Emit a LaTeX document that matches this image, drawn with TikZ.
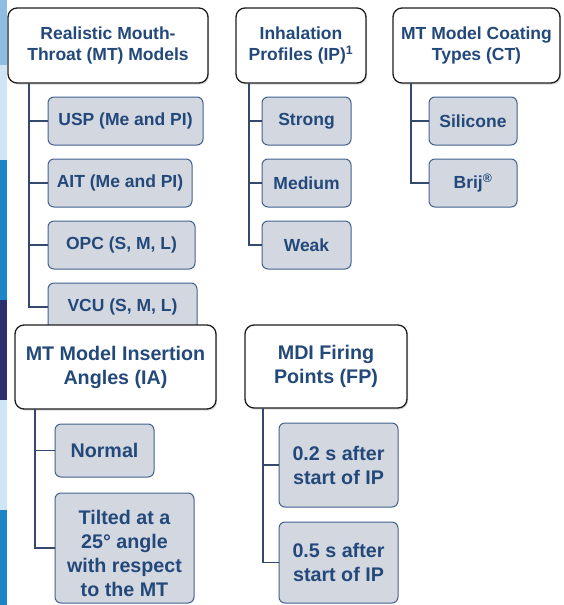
\documentclass[tikz,border=0pt]{standalone}
\usepackage{fontspec}
\setmainfont{Liberation Sans}
\usetikzlibrary{shadows}

\definecolor{txtblue}{HTML}{23487A}
\definecolor{headline}{HTML}{1E1E1E}
\definecolor{itemline}{HTML}{41618F}
\definecolor{itemfill}{HTML}{D3D7E0}
\definecolor{linkcol}{HTML}{34496D}
\definecolor{stripA}{HTML}{8DBDE3}
\definecolor{stripB}{HTML}{CFE4F4}
\definecolor{stripC}{HTML}{1B85C8}
\definecolor{stripD}{HTML}{2C2F6E}

\begin{document}
\begin{tikzpicture}[x=1pt, y=-1pt]
    \tikzset{
        head/.style={draw=headline, line width=1.3pt, fill=white,
            rounded corners=9pt, align=center, inner sep=0pt, text=txtblue,
            font=\bfseries\fontsize{17.5}{21}\selectfont,
            drop shadow={shadow xshift=1.2pt, shadow yshift=-1.5pt, opacity=0.3}},
        item/.style={draw=itemline, line width=1pt, fill=itemfill,
            rounded corners=6pt, align=center, inner sep=0pt, text=txtblue,
            font=\bfseries\fontsize{17.5}{21}\selectfont},
        big/.style={font=\bfseries\fontsize{19.7}{24}\selectfont},
        link/.style={draw=linkcol, line width=1.2pt}
    }

    \useasboundingbox (0, 0) rectangle (563, 605);

    % Slide edge on the left
    \fill[stripA] (0, 0) rectangle (7, 65);
    \fill[stripB] (0, 65) rectangle (7, 160);
    \fill[stripC] (0, 160) rectangle (7, 300);
    \fill[stripD] (0, 300) rectangle (7, 400);
    \fill[stripB] (0, 400) rectangle (7, 510);
    \fill[stripC] (0, 510) rectangle (7, 605);

    % Mouth-throat models
    \node[head, minimum width=200pt, minimum height=75pt] (mt) at (108, 45.5)
        {Realistic Mouth-\\Throat (MT) Models};
    \node[item, minimum width=155pt, minimum height=48pt] (usp) at (125.5, 121) {USP (Me and PI)};
    \node[item, minimum width=144pt, minimum height=48pt] (ait) at (120, 183) {AIT (Me and PI)};
    \node[item, minimum width=147pt, minimum height=48pt] (opc) at (121.5, 245) {OPC (S, M, L)};
    \node[item, minimum width=149pt, minimum height=48pt] (vcu) at (122.5, 307) {VCU (S, M, L)};

    \coordinate (mtx) at (29, 83);
    \draw[link] (mtx) |- (usp.west);
    \draw[link] (mtx) |- (ait.west);
    \draw[link] (mtx) |- (opc.west);
    \draw[link] (mtx) |- (vcu.west);

    % Inhalation profiles
    \node[head, minimum width=130pt, minimum height=75pt] (ip) at (301, 45.5)
        {Inhalation\\Profiles (IP)\textsuperscript{1}};
    \node[item, minimum width=89pt, minimum height=48pt] (strong) at (306.5, 121) {Strong};
    \node[item, minimum width=89pt, minimum height=48pt] (medium) at (306.5, 183) {Medium};
    \node[item, minimum width=89pt, minimum height=48pt] (weak) at (306.5, 245) {Weak};

    \coordinate (ipx) at (249, 83);
    \draw[link] (ipx) |- (strong.west);
    \draw[link] (ipx) |- (medium.west);
    \draw[link] (ipx) |- (weak.west);

    % Coating types
    \node[head, minimum width=167pt, minimum height=75pt] (ct) at (476.5, 45.5)
        {MT Model Coating\\Types (CT)};
    \node[item, minimum width=88pt, minimum height=48pt] (silicone) at (473, 121) {Silicone};
    \node[item, minimum width=88pt, minimum height=48pt] (brij) at (473, 183) {Brij\textsuperscript{®}};

    \coordinate (ctx) at (411, 83);
    \draw[link] (ctx) |- (silicone.west);
    \draw[link] (ctx) |- (brij.west);

    % Insertion angles
    \node[head, big, minimum width=201pt, minimum height=84pt] (ia) at (115.5, 367)
        {MT Model Insertion\\Angles (IA)};
    \node[item, big, minimum width=99pt, minimum height=53pt] (normal) at (104.5, 450.5) {Normal};
    \node[item, big, minimum width=139pt, minimum height=110pt] (tilted) at (124.5, 548)
        {\fontsize{19.7}{25}\selectfont\rule{0pt}{26pt}Tilted at a\\25° angle\\with respect\\to the MT};

    \coordinate (iax) at (35, 409);
    \draw[link] (iax) |- (normal.west);
    \draw[link] (iax) |- (tilted.west);

    % Firing points
    \node[head, big, minimum width=162pt, minimum height=83pt] (fp) at (326, 366.5)
        {MDI Firing\\Points (FP)};
    \node[item, big, minimum width=119pt, minimum height=84pt] (early) at (338.5, 465)
        {0.2 s after\\start of IP};
    \node[item, big, minimum width=119pt, minimum height=81pt] (late) at (338.5, 562.5)
        {0.5 s after\\start of IP};

    \coordinate (fpx) at (263, 408);
    \draw[link] (fpx) |- (early.west);
    \draw[link] (fpx) |- (late.west);
\end{tikzpicture}
\end{document}
